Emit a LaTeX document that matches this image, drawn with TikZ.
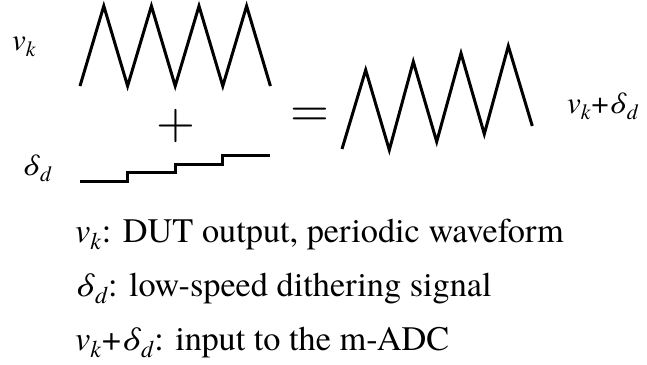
\documentclass[tikz,border=0pt]{standalone}
\usepackage{fontspec}
\setmainfont{texgyretermes}[Extension=.otf,UprightFont=*-regular,ItalicFont=*-italic,BoldFont=*-bold,BoldItalicFont=*-bolditalic]
\newfontfamily\opfont{lmroman10-regular.otf}
\newcommand{\vk}{\textit{v}\textsubscript{\textit{k}}}
\newcommand{\dd}{\textit{δ}\textsubscript{\textit{d}}}
\begin{document}
\begin{tikzpicture}[x=1pt,y=-1pt]
\tikzstyle{every node}=[inner sep=0,anchor=base west]
\tikzstyle{wave}=[line width=3,line join=miter]
\tikzstyle{op}=[anchor=base,font=\opfont\fontsize{50}{50}\selectfont]
\useasboundingbox (0,0) rectangle (647,364);
% periodic waveform
\draw[wave] (80,86) \foreach \i in {0,...,3}{ -- ++(23.8,-80) -- ++(23.8,80)};
% dither staircase
\draw[wave] (80,181) \foreach \i in {0,...,2}{ -- ++(47.6,0) -- ++(0,-8.4)} -- ++(47.6,0);
% sum
\draw[wave] (342,149) \foreach \x/\y in {365.7/70,389.3/150,413.3/61.7,436.7/141.7,461/53.3,484.3/134,508.3/46,532.3/126}{ -- (\x,\y)};
\path (12,50) node[font=\fontsize{31}{31}\selectfont] (vk) {\vk};
\path (22,175) node[font=\fontsize{31}{31}\selectfont] (dd) {\dd};
\path (567,113) node[font=\fontsize{31}{31}\selectfont] (sum) {\vk+\dd};
\path (175.5,138) node[op] (plus) {+};
\path (310,126) node[op] (eq) {=};
% legend
\foreach \n/\y/\t in {l1/242/{\vk: DUT output, periodic waveform},
  l2/296/{\dd: low-speed dithering signal},
  l3/350/{\vk+\dd: input to the m-ADC}}{
\path (75,\y) node[font=\fontsize{34.3}{34.3}\selectfont] (\n) {\t};}
\end{tikzpicture}
\end{document}
